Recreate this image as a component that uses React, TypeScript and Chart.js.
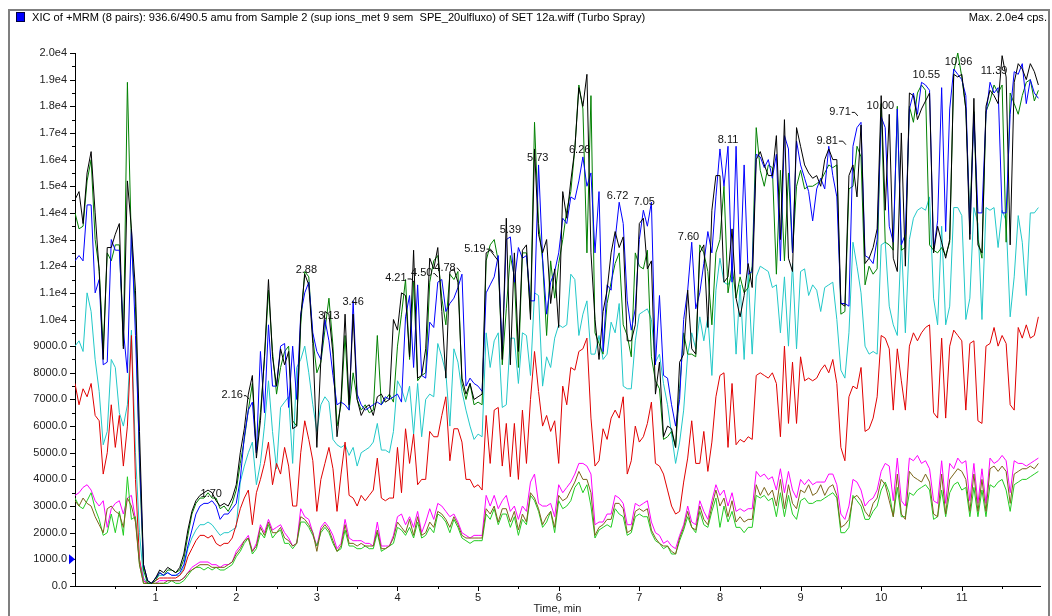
import React, { useEffect, useRef } from 'react';
import { Chart, registerables } from 'chart.js';

Chart.register(...registerables);

const TITLE = 'XIC of +MRM (8 pairs): 936.6/490.5 amu from Sample 2 (sup ions_met 9 sem  SPE_20ulfluxo) of SET 12a.wiff (Turbo Spray)';
const MAX_LABEL = 'Max. 2.0e4 cps.';
const X_TITLE = 'Time, min';

// sampling of the traces (minutes)
const T_STEP = 0.05;
const X_MAX = 11.97;
const xTickValues = [1, 2, 3, 4, 5, 6, 7, 8, 9, 10, 11];
const Y_MAX = 20000;
const Y_STEP = 1000;
const MARKER_VALUE = 1000;

// intensities in thousands of cps, one row per minute (20 samples / min)
const blackK = [
  14.5,14.8,13.6,15.5,16.3,14.0,11.8,8.5,12.7,12.7,13.2,13.6,8.9,15.2,13.4,11.1,5.8,0.8,0.2,0.1,
  0.3,0.6,0.5,0.7,0.6,0.5,0.7,1.2,2.1,2.8,3.2,3.4,3.5,3.6,3.5,3.2,3.0,3.1,3.0,3.3,
  3.8,5.0,5.9,7.2,7.9,4.8,6.2,8.6,11.5,8.6,7.5,8.9,8.3,8.8,5.9,6.0,10.1,11.7,11.3,9.1,
  5.2,8.5,10.3,10.2,8.7,5.6,7.0,10.2,6.8,10.2,7.0,6.4,6.7,6.8,6.4,7.1,7.2,6.9,7.0,10.0,
  9.6,11.0,10.9,8.6,12.6,7.8,7.9,8.9,12.3,11.9,12.7,10.3,7.8,11.8,11.9,11.4,7.8,7.2,7.6,7.0,
  7.1,7.2,12.5,12.6,12.4,12.2,8.5,13.8,8.3,12.5,8.8,12.6,12.8,10.0,16.4,13.2,12.5,13.0,10.6,11.9,
  9.7,14.8,13.8,15.2,16.4,18.7,18.0,19.2,12.5,10.0,8.5,10.3,11.1,12.5,13.3,12.7,13.1,9.2,9.2,9.8,
  13.6,13.8,11.9,12.2,7.2,8.4,5.6,6.0,5.9,5.2,8.4,8.7,11.1,8.9,8.7,12.5,12.8,9.7,14.1,15.4,
  15.4,11.4,11.6,13.4,10.8,10.1,10.9,12.1,11.2,16.0,16.3,15.8,15.4,15.4,16.9,13.0,17.5,12.3,11.8,17.2,
  16.5,15.8,15.5,15.3,15.4,15.0,16.0,16.4,16.0,16.0,10.6,10.5,15.4,15.8,14.6,17.3,12.1,12.3,12.7,13.4,
  18.4,14.1,17.7,12.3,11.8,17.0,12.0,18.5,18.4,17.5,17.9,18.2,18.5,12.5,13.5,12.9,12.3,13.0,19.2,19.1,
  19.2,17.9,13.0,18.3,12.8,12.5,18.0,18.6,18.4,18.1,19.9,19.1,12.8,18.9,19.6,19.4,19.0,19.6,19.3,18.8,
];

const greenK = [
  14.0,13.4,13.5,15.2,16.0,13.0,11.9,8.9,12.5,12.2,12.8,12.8,9.0,18.9,12.8,10.5,4.5,0.6,0.1,0.1,
  0.2,0.5,0.4,0.6,0.6,0.5,0.6,1.0,1.9,2.7,3.1,3.3,3.3,3.5,3.3,3.3,2.9,3.0,2.8,3.1,
  3.6,4.6,5.5,6.6,7.6,5.0,6.5,8.5,11.1,8.8,7.2,8.2,8.8,9.0,6.2,6.0,9.8,11.8,11.6,9.3,
  8.0,8.4,9.6,10.8,9.0,6.0,6.8,9.4,6.6,8.0,7.0,6.6,6.8,6.5,6.6,9.4,6.8,7.0,7.2,6.9,
  9.0,10.2,11.5,8.5,11.4,7.7,7.9,8.0,11.4,12.2,12.4,10.8,9.8,11.7,11.5,11.8,7.6,7.0,7.6,6.8,
  6.9,6.8,12.2,12.8,13.0,12.2,8.3,10.4,12.4,11.6,8.2,12.5,12.5,10.2,17.4,13.6,12.2,9.4,12.2,10.8,
  12.1,13.0,14.1,14.8,16.4,18.8,17.9,12.5,18.4,9.5,9.1,8.7,10.6,11.4,12.1,12.5,9.8,9.4,8.6,12.5,
  12.0,11.9,12.6,8.6,7.7,7.4,5.5,5.6,5.8,5.2,7.4,9.5,8.7,8.7,8.6,12.8,12.5,11.8,9.8,12.5,
  13.0,15.0,11.0,12.0,10.8,11.6,11.0,11.2,12.0,17.2,15.6,15.0,15.8,15.7,11.7,15.6,12.2,15.5,12.5,15.0,
  15.6,14.9,15.0,15.0,15.1,15.2,15.5,15.8,15.7,15.8,10.2,10.3,14.9,15.0,16.5,16.1,11.3,12.0,11.7,11.9,
  18.1,12.9,12.8,12.6,18.0,12.6,12.7,18.0,17.4,18.5,18.8,18.6,12.8,12.6,12.5,12.7,12.4,12.9,19.3,20.0,
  19.1,17.9,13.8,17.8,13.0,12.3,17.8,18.2,18.8,18.5,18.8,12.9,18.5,18.1,17.7,18.4,18.9,19.0,18.2,18.6,
];

const blueK = [
  12.2,12.4,12.2,14.3,14.3,11.0,11.5,8.3,8.4,13.0,12.6,12.6,9.6,8.0,13.4,9.4,5.0,0.8,0.2,0.1,
  0.3,0.5,0.4,0.5,0.4,0.4,0.5,0.8,1.5,2.1,2.7,3.0,3.1,3.1,3.2,3.0,2.5,2.7,2.7,2.9,
  3.1,4.0,5.6,6.6,6.9,5.0,8.8,6.5,9.8,7.5,7.5,9.0,9.1,6.7,9.0,7.0,10.2,11.0,11.4,9.5,
  8.8,8.5,10.0,9.2,7.9,6.8,6.9,6.8,6.6,10.7,7.2,6.8,6.6,6.7,6.8,6.9,6.8,7.1,7.0,7.1,
  7.2,6.9,10.1,10.9,8.2,11.3,7.9,7.8,9.9,9.7,11.4,11.5,10.3,10.6,10.8,11.2,11.7,7.5,7.8,7.6,
  7.5,7.3,11.0,11.3,11.6,12.4,8.8,13.0,13.1,11.4,12.7,12.3,12.4,10.7,10.7,15.8,12.3,10.2,11.4,11.8,
  12.5,13.8,13.6,14.6,14.5,15.2,16.1,15.0,15.5,12.5,14.8,8.8,11.3,11.1,13.0,14.4,13.6,10.7,9.6,10.4,
  13.0,14.1,13.5,14.4,8.3,10.9,7.9,7.8,6.8,6.0,7.0,10.0,11.1,12.9,10.4,11.0,12.1,13.3,12.5,14.6,
  16.4,15.0,16.5,11.4,16.5,11.7,15.8,11.7,11.8,16.2,16.1,15.7,16.0,15.3,16.2,12.2,16.9,16.4,12.5,16.7,
  15.8,15.3,14.8,13.7,14.9,15.3,14.9,16.5,15.4,14.6,10.6,10.6,10.5,16.5,17.2,17.4,12.4,12.3,12.1,13.0,
  17.6,17.2,13.5,12.9,17.9,12.8,13.2,17.9,18.5,17.7,18.9,18.8,18.6,12.6,13.7,18.7,13.3,17.9,19.4,19.2,
  19.0,18.4,13.2,17.7,14.0,14.0,17.7,18.9,18.5,18.7,14.0,14.0,17.7,19.3,19.2,19.6,18.1,19.0,18.5,18.3,
];

const cyanK = [
  9.0,9.2,8.8,11.0,10.3,8.5,7.3,5.3,5.8,8.5,8.2,6.5,6.0,6.8,9.6,5.0,2.0,0.3,0.1,0.1,
  0.3,0.4,0.4,0.5,0.4,0.4,0.4,0.7,1.4,1.8,2.1,2.3,2.3,2.4,2.3,2.1,1.9,2.0,2.0,2.1,
  2.2,3.9,4.5,5.0,5.4,3.8,4.6,6.0,7.7,5.8,4.4,6.7,6.9,7.1,4.6,8.2,8.5,9.0,8.0,6.8,
  5.8,6.8,7.1,6.9,5.5,5.3,5.2,5.3,4.9,5.2,4.5,5.0,5.1,5.2,5.4,6.1,5.1,5.1,5.0,5.8,
  7.7,7.4,6.9,7.5,5.7,7.6,5.6,7.0,7.2,7.1,9.1,8.6,8.0,6.0,8.9,8.4,7.3,6.6,6.0,5.5,
  5.7,5.6,9.5,8.2,9.2,9.5,6.7,6.8,9.3,9.3,7.6,9.5,9.4,7.9,11.0,10.9,7.5,8.6,8.2,9.3,
  9.8,9.7,9.8,11.7,11.5,9.4,10.2,10.7,8.7,8.7,9.4,8.5,8.7,9.9,9.5,10.6,7.5,7.4,7.4,9.2,
  10.2,10.3,10.4,10.0,8.4,8.7,7.6,6.8,5.7,4.6,5.4,6.6,8.7,9.5,8.9,10.1,9.2,10.1,7.9,11.1,
  12.3,11.4,11.3,11.6,8.7,11.3,8.5,11.7,8.7,11.6,12.0,11.9,11.8,11.2,11.3,9.5,11.6,9.0,12.1,8.9,
  11.8,11.9,10.9,11.3,11.1,10.3,11.2,11.3,11.4,10.0,8.1,7.8,9.5,12.9,12.0,11.0,9.0,8.7,8.8,8.7,
  12.8,12.9,10.5,9.8,9.4,13.0,9.5,13.0,13.8,14.1,14.2,14.1,14.6,10.8,9.8,13.5,9.8,10.5,14.2,14.2,
  13.9,10.0,10.8,14.2,13.6,10.0,14.2,14.1,14.2,12.7,14.1,13.7,10.1,11.6,13.9,12.9,10.9,14.0,14.0,14.2,
];

const redK = [
  7.6,6.8,7.4,7.1,7.6,6.4,6.2,4.2,5.0,6.8,5.2,6.4,4.5,6.0,9.4,4.0,1.0,0.2,0.1,0.1,
  0.2,0.3,0.3,0.3,0.3,0.3,0.4,0.6,1.1,1.4,1.7,1.9,1.9,1.8,1.9,1.6,1.5,1.6,1.6,1.8,
  2.3,2.9,3.3,3.6,2.3,3.5,4.0,4.6,5.4,3.8,4.6,4.2,5.2,4.5,3.0,3.0,5.0,6.2,5.5,4.7,
  2.8,4.0,4.6,5.2,4.4,2.8,4.2,5.4,3.4,3.3,3.0,3.4,3.2,3.4,3.6,4.8,3.3,3.2,3.3,3.3,
  5.2,3.5,5.9,4.6,5.7,3.8,4.0,4.0,5.8,5.6,5.6,6.4,7.1,4.7,5.9,5.9,5.4,4.0,4.0,3.7,
  3.8,3.6,6.4,4.6,6.6,6.7,4.5,6.1,4.1,6.1,4.0,6.6,4.6,7.0,8.8,7.3,6.0,6.4,5.8,6.2,
  4.6,7.5,6.8,8.2,8.1,8.8,8.9,9.3,6.3,4.5,4.7,5.9,5.5,6.3,6.6,6.3,7.1,4.2,4.7,6.0,
  5.4,5.6,6.1,6.9,4.6,4.5,4.2,3.6,3.0,2.7,2.8,3.9,4.8,6.2,4.6,4.6,5.8,4.3,5.4,7.1,
  7.9,8.0,5.2,7.6,5.3,5.5,5.4,5.6,5.5,7.9,8.0,7.9,7.8,8.0,7.6,5.6,9.0,6.1,8.4,6.1,
  8.6,7.7,7.8,7.7,7.8,8.1,8.3,8.0,8.5,7.6,5.2,4.7,7.1,7.5,7.4,8.2,5.8,5.9,6.3,7.1,
  9.4,9.3,8.9,6.6,8.9,7.7,6.6,9.0,9.5,9.2,9.5,9.7,9.8,6.5,6.3,9.3,6.3,9.0,9.6,9.4,
  9.2,6.6,9.1,9.2,6.2,6.1,9.0,9.1,9.7,9.0,9.4,9.1,6.8,6.6,9.7,9.3,9.8,9.3,9.4,10.1,
];

const magentaK = [
  3.4,3.5,3.7,3.8,3.6,3.2,3.0,3.2,2.2,2.9,3.1,3.2,2.7,3.3,3.4,2.5,0.9,0.2,0.1,0.1,
  0.1,0.2,0.2,0.2,0.2,0.2,0.2,0.3,0.5,0.7,0.8,0.9,0.9,0.9,0.8,0.8,0.7,0.8,0.8,0.9,
  1.3,1.5,1.7,1.9,1.3,1.6,2.3,2.0,2.5,2.1,2.2,2.3,2.0,1.8,1.5,1.6,2.9,2.6,2.5,2.0,
  1.5,2.2,2.4,2.2,1.9,1.4,1.6,2.5,1.8,1.7,1.7,1.7,1.6,1.6,1.5,2.4,1.5,1.5,1.5,1.9,
  2.6,2.7,2.3,2.6,2.2,2.8,2.0,2.4,2.9,2.5,3.1,3.0,2.8,2.6,2.7,2.4,2.0,1.9,1.8,1.9,
  1.9,1.9,3.4,3.0,3.4,2.9,3.2,3.4,2.8,3.0,2.5,3.0,2.8,3.9,4.2,3.1,3.0,3.0,3.1,2.6,
  3.8,3.5,3.7,3.9,4.2,4.6,4.6,4.5,4.2,2.3,2.4,2.4,2.7,2.7,3.4,3.3,3.1,2.3,2.3,3.1,
  3.0,3.1,3.2,2.4,2.0,1.9,1.6,1.7,1.5,1.4,1.9,2.3,3.0,2.4,2.3,3.2,2.8,2.5,3.2,3.8,
  3.4,3.6,3.0,3.5,2.8,2.9,2.8,2.9,2.9,4.3,4.1,4.2,4.0,4.1,3.6,4.4,3.5,4.3,3.6,3.3,
  4.0,3.8,4.0,3.8,3.9,3.9,3.9,4.2,4.2,3.8,2.7,2.5,3.0,4.0,3.9,3.6,3.0,3.2,3.3,3.6,
  4.3,4.6,4.5,3.2,4.8,3.2,3.0,4.8,4.7,4.9,4.6,4.7,4.4,3.2,3.1,4.7,3.1,4.6,4.4,4.8,
  4.6,4.7,3.2,4.6,3.1,4.4,3.1,4.8,4.6,4.7,4.9,4.7,3.5,4.7,4.6,4.6,4.5,4.6,4.7,4.8,
];

const limeK = [
  3.3,3.0,2.9,3.2,3.5,2.9,2.5,1.9,2.0,2.7,2.0,2.8,1.9,4.1,2.5,2.6,0.8,0.1,0.1,0.1,
  0.1,0.1,0.1,0.1,0.2,0.1,0.1,0.2,0.4,0.6,0.7,0.7,0.6,0.7,0.6,0.7,0.6,0.6,0.7,0.8,
  1.1,1.3,1.6,1.8,1.2,1.4,2.0,1.8,2.3,1.8,2.0,2.1,1.6,1.6,1.4,1.6,2.4,2.4,2.2,1.9,
  1.5,2.0,2.2,2.0,1.6,1.3,1.4,2.1,1.5,1.5,1.4,1.4,1.5,1.4,1.4,2.0,1.3,1.4,1.5,1.6,
  2.2,2.1,1.9,2.2,1.8,2.4,1.8,1.9,2.2,2.0,2.7,2.6,2.4,2.0,2.5,2.2,1.8,1.7,1.6,1.7,
  1.7,1.7,2.7,2.5,2.9,2.3,2.7,2.7,2.2,2.6,1.9,2.5,2.3,3.4,3.2,2.8,2.2,2.4,2.8,2.0,
  3.2,2.9,3.0,3.2,3.7,3.9,3.5,3.8,3.0,1.8,2.1,2.2,2.3,2.2,2.9,2.7,2.6,1.9,2.0,2.6,
  2.7,2.6,2.6,2.0,1.7,1.6,1.4,1.5,1.2,1.2,1.7,2.1,2.6,2.2,2.0,2.8,2.3,2.2,2.8,3.3,
  2.2,3.0,2.4,2.8,2.2,2.2,2.0,2.2,2.2,3.4,3.3,3.4,3.2,3.3,2.6,3.5,2.6,3.4,2.7,2.5,
  3.2,3.3,3.1,3.1,3.2,3.2,3.3,3.4,3.5,3.3,2.0,2.0,2.2,3.4,3.2,3.0,2.5,2.5,2.8,3.0,
  3.6,3.9,3.5,2.6,3.7,2.6,2.6,3.5,3.4,3.6,3.7,3.8,3.6,2.5,2.6,3.6,2.6,3.5,3.8,3.9,
  3.6,3.7,2.6,3.7,2.6,3.6,2.6,3.8,3.7,3.9,4.0,3.6,2.8,3.8,3.9,4.0,4.0,4.1,4.2,4.3,
];

const oliveK = [
  3.2,3.0,3.3,3.1,3.0,2.6,2.3,2.0,2.9,3.0,2.8,2.7,2.2,3.3,3.0,2.4,0.8,0.1,0.1,0.1,
  0.1,0.1,0.1,0.2,0.2,0.2,0.2,0.3,0.5,0.6,0.7,0.8,0.8,0.8,0.7,0.7,0.7,0.7,0.8,0.9,
  1.2,1.4,1.7,1.8,1.3,1.5,2.2,1.9,2.4,2.0,2.0,2.2,1.8,1.7,1.5,1.6,2.6,2.5,2.3,2.0,
  1.3,2.1,2.3,2.1,1.7,1.3,1.5,2.3,1.6,1.6,1.5,1.6,1.5,1.5,1.5,2.1,1.4,1.4,1.5,1.8,
  2.4,2.2,2.0,2.5,1.9,2.6,1.9,2.0,2.4,2.2,2.8,2.7,2.5,2.2,2.6,2.3,1.9,1.8,1.8,1.8,
  1.8,1.8,2.9,2.7,3.0,2.4,2.9,2.9,2.4,2.8,2.1,2.7,2.4,3.5,3.3,2.9,2.3,2.6,2.8,2.2,
  3.4,3.2,3.3,3.6,3.9,4.3,4.0,4.0,3.5,1.9,2.2,2.3,2.5,2.5,3.1,3.1,2.9,2.0,2.1,2.8,
  2.9,2.8,2.9,2.1,1.8,1.6,1.5,1.5,1.3,1.2,1.8,2.2,2.8,2.2,2.1,3.0,2.5,2.3,3.0,3.6,
  3.0,3.3,2.6,3.2,2.4,2.6,2.4,2.5,2.5,3.8,3.4,3.7,3.4,3.6,3.0,4.0,2.9,3.8,3.1,2.9,
  3.6,3.5,3.8,3.4,3.5,3.8,3.4,3.7,3.8,3.4,2.2,2.3,2.5,3.3,3.4,3.2,2.8,2.6,3.1,3.3,
  4.0,3.8,3.2,2.6,4.2,2.7,2.5,4.3,4.1,4.0,3.9,4.2,3.9,2.7,2.6,4.2,2.7,4.0,4.2,4.4,
  4.3,4.0,2.8,4.2,2.8,4.0,2.8,4.4,4.5,4.3,4.5,4.3,3.1,4.2,4.3,4.4,4.4,4.5,4.4,4.6,
];

// peak annotations: text, time where the text sits, intensity (thousands) of the text centre
const peakLabels = ['1.70','2.16','2.88','3.13','3.46','4.21','4.50','4.78','5.19','5.39','5.73','6.26','6.72','7.05','7.60','8.11','9.81','9.71','10.00','10.55','10.96','11.39'];
const peakLabelTimes = [1.69,1.95,2.87,3.15,3.45,3.98,4.30,4.59,4.96,5.40,5.74,6.26,6.73,7.06,7.61,8.10,9.33,9.49,9.99,10.56,10.96,11.40];
const peakLabelK = [3.46,7.16,11.84,10.13,10.67,11.54,11.74,11.95,12.66,13.35,16.07,16.35,14.63,14.40,13.08,16.75,16.71,17.79,18.01,19.16,19.67,19.31];

const series = [
  { name: 'black', values: blackK, color: '#000000' },
  { name: 'blue', values: blueK, color: '#0000ff' },
  { name: 'green', values: greenK, color: '#008000' },
  { name: 'olive', values: oliveK, color: '#7a6318' },
  { name: 'lime', values: limeK, color: '#22cc22' },
  { name: 'magenta', values: magentaK, color: '#ff00ff' },
  { name: 'red', values: redK, color: '#e00000' },
  { name: 'cyan', values: cyanK, color: '#22c8c8' },
];

const FONT = '"Liberation Sans", Arial, Helvetica, sans-serif';

function fmtY(v: number): string {
  if (v >= 10000) return (v / 10000).toFixed(1) + 'e4';
  return v.toFixed(1);
}

const decorPlugin = {
  id: 'decor',
  afterDraw(chart: any) {
    const { ctx, chartArea, scales } = chart;
    const xs = scales.x;
    const ys = scales.y;
    ctx.save();
    // frame
    ctx.strokeStyle = '#7f7f7f';
    ctx.lineWidth = 2;
    ctx.beginPath();
    ctx.moveTo(9, 616);
    ctx.lineTo(9, 10);
    ctx.lineTo(1049, 10);
    ctx.lineTo(1049, 616);
    ctx.stroke();
    // title square
    ctx.fillStyle = '#0000ff';
    ctx.fillRect(16, 12, 9, 10);
    ctx.strokeStyle = '#000040';
    ctx.lineWidth = 1;
    ctx.strokeRect(16.5, 12.5, 8, 9);
    // title texts
    ctx.fillStyle = '#000';
    ctx.font = '11.1px ' + FONT;
    ctx.textBaseline = 'middle';
    ctx.textAlign = 'left';
    ctx.fillText(TITLE, 32, 18);
    ctx.textAlign = 'right';
    ctx.fillText(MAX_LABEL, 1047, 18);
    // x title
    ctx.font = '11px ' + FONT;
    ctx.textAlign = 'center';
    ctx.fillStyle = '#222';
    ctx.fillText(X_TITLE, (chartArea.left + chartArea.right) / 2, 609);
    // tick marks
    ctx.strokeStyle = '#000';
    ctx.lineWidth = 1;
    ctx.beginPath();
    for (let v = 0; v <= Y_MAX; v += Y_STEP / 2) {
      const py = Math.round(ys.getPixelForValue(v)) + 0.5;
      const len = v % Y_STEP === 0 ? 5 : 3;
      ctx.moveTo(chartArea.left - len, py);
      ctx.lineTo(chartArea.left, py);
    }
    for (let t = 0.5; t < X_MAX; t += 0.5) {
      const px = Math.round(xs.getPixelForValue(t)) + 0.5;
      const len = Number.isInteger(t) ? 5 : 3;
      ctx.moveTo(px, chartArea.bottom);
      ctx.lineTo(px, chartArea.bottom + len);
    }
    ctx.stroke();
    // marker triangle
    const my = ys.getPixelForValue(MARKER_VALUE);
    ctx.fillStyle = '#0000ff';
    ctx.beginPath();
    ctx.moveTo(chartArea.left - 6, my - 5);
    ctx.lineTo(chartArea.left, my);
    ctx.lineTo(chartArea.left - 6, my + 5);
    ctx.closePath();
    ctx.fill();
    // peak labels with short leader lines where the text is shifted
    ctx.fillStyle = '#111';
    ctx.strokeStyle = '#111';
    ctx.font = '11px ' + FONT;
    ctx.textAlign = 'center';
    ctx.textBaseline = 'middle';
    ctx.beginPath();
    peakLabels.forEach((txt, i) => {
      const px = xs.getPixelForValue(peakLabelTimes[i]);
      const py = ys.getPixelForValue(peakLabelK[i] * 1000);
      ctx.fillText(txt, px, py);
      const peakX = xs.getPixelForValue(parseFloat(txt));
      const w = ctx.measureText(txt).width;
      const right = px + w / 2 + 1;
      if (peakX - right > 2) {
        const endX = Math.min(peakX, right + 7);
        ctx.moveTo(right, py + 0.5);
        ctx.lineTo(endX - 3, py + 0.5);
        ctx.lineTo(endX, py + 4);
      }
    });
    ctx.stroke();
    ctx.restore();
  },
};

export default function App() {
  const ref = useRef<HTMLCanvasElement | null>(null);
  useEffect(() => {
    document.body.style.margin = '0';
    document.body.style.background = '#fff';
    const canvas = ref.current;
    if (!canvas) return;
    const datasets = series.map((s) => ({
      label: s.name,
      data: s.values.map((v, i) => ({ x: i * T_STEP, y: v * 1000 })),
      borderColor: s.color,
      backgroundColor: s.color,
      borderWidth: 1,
      pointRadius: 0,
      tension: 0,
      fill: false,
    }));
    const chart = new Chart(canvas, {
      type: 'line',
      data: { datasets },
      options: {
        responsive: false,
        animation: false,
        devicePixelRatio: 1,
        parsing: false,
        normalized: true,
        layout: { padding: { left: 0, top: 53, right: 12, bottom: 0 } },
        plugins: { legend: { display: false }, tooltip: { enabled: false }, title: { display: false } },
        scales: {
          x: {
            type: 'linear',
            min: 0,
            max: X_MAX,
            afterBuildTicks: (s: any) => {
              s.ticks = xTickValues.map((v) => ({ value: v }));
            },
            afterFit: (s: any) => {
              s.height = 30;
            },
            grid: { display: false, drawTicks: false },
            border: { display: true, color: '#000', width: 1 },
            ticks: {
              autoSkip: false,
              maxRotation: 0,
              padding: 5,
              color: '#222',
              font: { family: FONT, size: 11 },
              callback: (v: any) => String(v),
            },
          },
          y: {
            type: 'linear',
            min: 0,
            max: Y_MAX,
            afterFit: (s: any) => {
              s.width = 75;
            },
            grid: { display: false, drawTicks: false },
            border: { display: true, color: '#000', width: 1 },
            ticks: {
              stepSize: Y_STEP,
              autoSkip: false,
              padding: 8,
              color: '#222',
              font: { family: FONT, size: 11 },
              callback: (v: any) => fmtY(Number(v)),
            },
          },
        },
      },
      plugins: [decorPlugin],
    });
    return () => chart.destroy();
  }, []);
  return (
    <div style={{ width: 1052, height: 616, overflow: 'hidden', background: '#fff' }}>
      <canvas ref={ref} width={1052} height={616} style={{ display: 'block' }} />
    </div>
  );
}
